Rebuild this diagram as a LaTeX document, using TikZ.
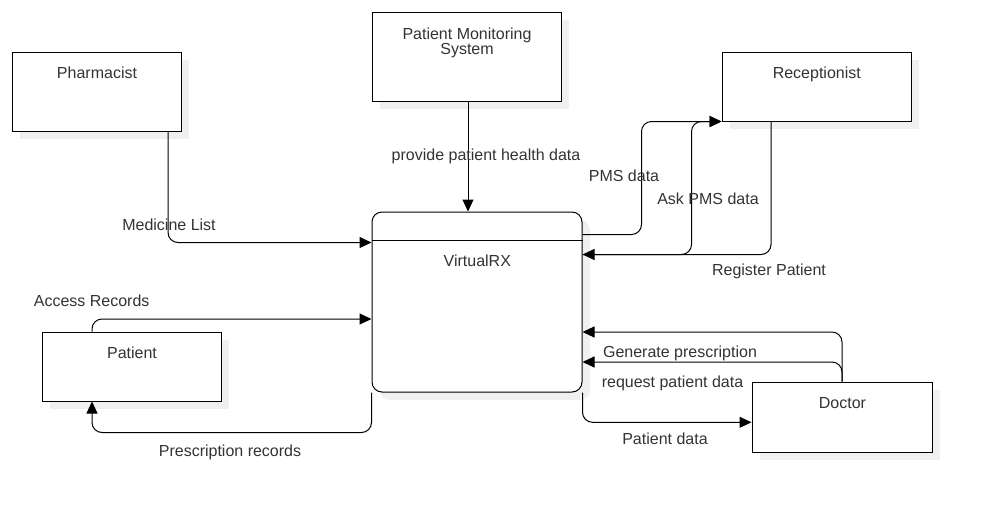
\documentclass[tikz,border=0pt]{standalone}
\usepackage{fontspec}
\setmainfont{Liberation Sans}
\usetikzlibrary{arrows.meta,calc,shadows}
\begin{document}
\begin{tikzpicture}[x=0.75pt,y=-0.75pt,
  every node/.style={font=\fontsize{12}{11.8}\selectfont, text=black!80},
  box/.style={draw=black, line width=0.75pt, fill=white, inner sep=0pt,
    drop shadow={shadow xshift=6pt, shadow yshift=-6pt, fill=black!6, opacity=1}},
  lbl/.style={anchor=base, yshift=-4.6pt, inner sep=0pt},
  flow/.style={draw=black, line width=0.75pt, rounded corners=7.5pt,
    -{Triangle[length=9pt,width=8.25pt]}}
]
\useasboundingbox (0,0) rectangle (982,508);

% boxes
\node[box, minimum width=126.75pt, minimum height=59.25pt] (pharm) at (96.5,91.5) {};
\node[box, minimum width=141.75pt, minimum height=66.75pt] (pms) at (466.5,56.5) {};
\node[box, minimum width=141.75pt, minimum height=51.75pt] (rec) at (816.5,86.5) {};
\node[box, rounded corners=7.5pt, minimum width=157.5pt, minimum height=135pt] (vrx) at (477,302) {};
\draw[line width=0.75pt] ($(vrx.north west)+(0,29)$) -- ($(vrx.north east)+(0,29)$);
\node[box, minimum width=134.25pt, minimum height=51.75pt] (pat) at (131.5,366.5) {};
\node[box, minimum width=135pt, minimum height=52.5pt] (doc) at (842,417) {};

% box texts
\node[lbl] (tpharm) at (97,72) {Pharmacist};
\node[lbl] (tpms1) at (467,33) {Patient Monitoring};
\node[lbl] (tpms2) at (467,48.5) {System};
\node[lbl] (trec) at (816.8,72.3) {Receptionist};
\node[lbl] (tvrx) at (477.3,260) {VirtualRX};
\node[lbl] (tpat) at (132,352) {Patient};
\node[lbl] (tdoc) at (842.5,402) {Doctor};

% connectors
\draw[flow] ($(pharm.south)+(71.5,0)$) |- ($(vrx.north west)+(0,31)$);
\coordinate (p1) at ($(pms.south)+(1.5,0)$);
\draw[flow] (p1) -- (p1 |- vrx.north);
\coordinate (v1) at ($(vrx.north east)+(0,23)$);
\coordinate (v2) at ($(vrx.north east)+(0,43)$);
\draw[flow] (v1) -| ($(rec.south west)+(-80,0)$) -- (rec.south west);
\draw[flow] (v2) -| ($(rec.south west)+(-30,0)$) -- (rec.south west);
\draw[flow] ($(rec.south)+(-45.5,0)$) |- (v2);
\draw[flow] (doc.north) |- ($(vrx.north east)+(0,120.5)$);
\draw[flow] (doc.north) |- ($(vrx.north east)+(0,150.5)$);
\draw[flow] (vrx.south east) |- ($(doc.west)+(0,5.3)$);
\draw[flow] ($(pat.north)+(-39.5,0)$) |- ($(vrx.north west)+(0,107.5)$);
\draw[flow] (vrx.south west) -- ++(0,40) -| ($(pat.south)+(-39.5,0)$);

% connector labels
\node[lbl] (lmed) at (169,224) {Medicine List};
\node[lbl] (lpms) at (486,154) {provide patient health data};
\node[lbl] (lpmsd) at (624,175) {PMS data};
\node[lbl] (lask) at (708,198) {Ask PMS data};
\node[lbl] (lreg) at (769,269) {Register Patient};
\node[lbl] (lgen) at (680,351) {Generate prescription};
\node[lbl] (lreq) at (672.5,381) {request patient data};
\node[lbl] (lpd) at (665,438) {Patient data};
\node[lbl] (lacc) at (91.7,300) {Access Records};
\node[lbl] (lpre) at (230,450) {Prescription records};
\end{tikzpicture}
\end{document}
